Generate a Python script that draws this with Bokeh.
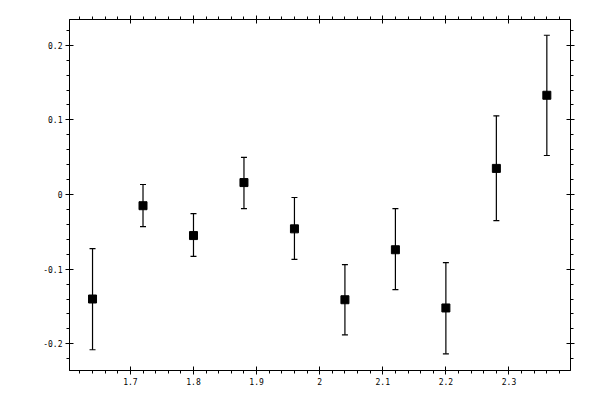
import numpy as np
from bokeh.plotting import figure
from bokeh.models import (ColumnDataSource, Whisker, TeeHead, LinearAxis, FixedTicker, Range1d)
from bokeh.embed import file_html
from bokeh.resources import INLINE

# data
x_vals = [1.64, 1.72, 1.80, 1.88, 1.96, 2.04, 2.12, 2.20, 2.28, 2.36]
y_vals = [-0.140, -0.015, -0.055, 0.016, -0.046, -0.141, -0.074, -0.152, 0.035, 0.133]
y_lower = [-0.208, -0.043, -0.083, -0.0188, -0.0868, -0.188, -0.1275, -0.2134, -0.0349, 0.0523]
y_upper = [-0.0725, 0.0134, -0.0255, 0.0497, -0.004, -0.094, -0.0188, -0.0913, 0.1055, 0.2134]

x_ticks = [1.7, 1.8, 1.9, 2.0, 2.1, 2.2, 2.3]
x_tick_labels = ["1.7", "1.8", "1.9", "2", "2.1", "2.2", "2.3"]
y_ticks = [-0.2, -0.1, 0.0, 0.1, 0.2]
y_tick_labels = ["-0.2", "-0.1", "0", "0.1", "0.2"]

x_minor = [round(v, 3) for v in np.arange(1.60, 2.401, 0.02)]
y_minor = [round(v, 3) for v in np.arange(-0.24, 0.241, 0.02)]

src = ColumnDataSource(dict(x=x_vals, y=y_vals, lo=y_lower, hi=y_upper))

W, H = 590, 390
p = figure(width=W, height=H, output_backend="svg", toolbar_location=None,
           x_range=Range1d(1.6035, 2.3975), y_range=Range1d(-0.2358, 0.2345),
           x_axis_location=None, y_axis_location=None,
           min_border_left=69, min_border_right=20, min_border_top=19, min_border_bottom=20)
p.xgrid.visible = False
p.ygrid.visible = False
p.outline_line_color = "black"
p.outline_line_width = 1
p.background_fill_color = "white"
p.border_fill_color = "white"

FONT = "DejaVu Sans Mono"

def style(ax, ticks, minor, labels, show):
    ax.ticker = FixedTicker(ticks=ticks, minor_ticks=minor)
    ax.axis_line_color = "black"
    ax.major_tick_line_color = "black"
    ax.minor_tick_line_color = "black"
    ax.major_tick_in = 4
    ax.major_tick_out = 4
    ax.minor_tick_in = 0
    ax.minor_tick_out = 3
    ax.major_label_text_font = FONT
    ax.major_label_text_font_size = "8px" if show else "0px"
    ax.major_label_text_color = "black"
    ax.major_label_standoff = 3
    ax.major_label_overrides = {t: (l if show else "") for t, l in zip(ticks, labels)}

bx = LinearAxis(); style(bx, x_ticks, x_minor, x_tick_labels, True)
tx = LinearAxis(); style(tx, x_ticks, x_minor, x_tick_labels, False)
ly = LinearAxis(); style(ly, y_ticks, y_minor, y_tick_labels, True)
ry = LinearAxis(); style(ry, y_ticks, y_minor, y_tick_labels, False)
p.add_layout(bx, "below")
p.add_layout(tx, "above")
p.add_layout(ly, "left")
p.add_layout(ry, "right")

w = Whisker(base="x", lower="lo", upper="hi", source=src, dimension="height",
            line_color="black", line_width=1.2,
            upper_head=TeeHead(size=6, line_color="black", line_width=1.2),
            lower_head=TeeHead(size=6, line_color="black", line_width=1.2))
p.add_layout(w)
p.scatter("x", "y", source=src, marker="square", size=8, fill_color="black", line_color="black")

open("out.html", "w").write(file_html(p, INLINE))
